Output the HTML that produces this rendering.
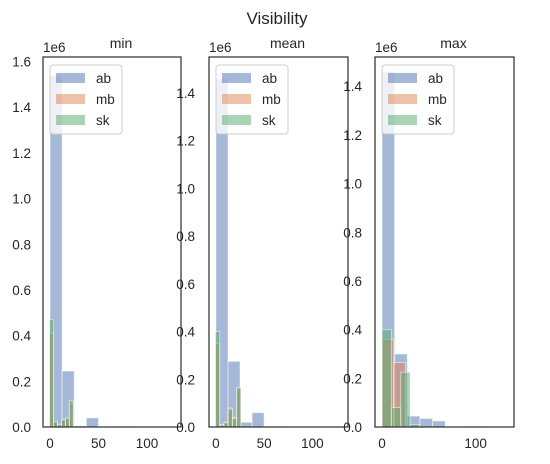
<!DOCTYPE html>
<html><head><meta charset="utf-8">
<style>
body{margin:0;background:#fff;}
svg{display:block;font-family:"Liberation Sans","DejaVu Sans",sans-serif;}
</style></head>
<body>
<svg id="chart" width="550" height="464" viewBox="0 0 550 464">
<text x="277" y="24" font-size="17" text-anchor="middle" fill="#262626">Visibility</text>
</svg>
<script>
const panelNames = ["min","mean","max"];
const seriesNames = ["ab","mb","sk"];
const seriesColors = ["#4C72B0","#DD8452","#55A868"];
// bin starts / widths (x units) and heights (1e6) for each panel
const minAbStart = 0, minAbWidth = 12.5;
const minAb = [1.54,0.245,0.005,0.04,0,0.003,0.003,0,0,0.002];
const minMbStart = -0.5, minMbWidth = 4.1;
const minMb = [0.41,0.02,0.01,0.03,0.035,0.105];
const minSkStart = -0.5, minSkWidth = 4.1;
const minSk = [0.47,0.025,0.012,0.032,0.04,0.115];
const meanAbStart = 0, meanAbWidth = 12.5;
const meanAb = [1.46,0.275,0.02,0.06,0.003,0.003,0,0,0,0];
const meanMbStart = -0.5, meanMbWidth = 4.4;
const meanMb = [0.35,0.01,0.02,0.08,0.04,0.16];
const meanSkStart = -0.5, meanSkWidth = 4.4;
const meanSk = [0.40,0.008,0.018,0.075,0.035,0.165];
const maxAbStart = 0, maxAbWidth = 13.5;
const maxAb = [1.46,0.30,0.045,0.035,0.025,0,0,0.003,0,0];
const maxMbStart = 0, maxMbWidth = 12.5;
const maxMb = [0.36,0.265];
const maxSkStart = 0, maxSkWidth = 10;
const maxSk = [0.40,0.08,0.225,0.01];
const yTicks = [[0,0.2,0.4,0.6,0.8,1.0,1.2,1.4,1.6],[0,0.2,0.4,0.6,0.8,1.0,1.2,1.4],[0,0.2,0.4,0.6,0.8,1.0,1.2,1.4]];
const xTicks = [[0,50,100],[0,50,100],[0,100]];

const NS="http://www.w3.org/2000/svg";
const svg=document.getElementById('chart');
function mk(tag,attrs,parent){const e=document.createElementNS(NS,tag);for(const k in attrs)e.setAttribute(k,attrs[k]);(parent||svg).appendChild(e);return e;}

const layout=[
 {x0:43,x1:181,top:57,bottom:427,xmin:-7.2,xmax:135,ymax:1.62,labelRight:31},
 {x0:209,x1:348,top:57,bottom:427,xmin:-7.2,xmax:137,ymax:1.55,labelRight:195},
 {x0:375,x1:514,top:57,bottom:427,xmin:-7.5,xmax:141,ymax:1.52,labelRight:362}
];
const data=[
 [[minAbStart,minAbWidth,minAb],[minMbStart,minMbWidth,minMb],[minSkStart,minSkWidth,minSk]],
 [[meanAbStart,meanAbWidth,meanAb],[meanMbStart,meanMbWidth,meanMb],[meanSkStart,meanSkWidth,meanSk]],
 [[maxAbStart,maxAbWidth,maxAb],[maxMbStart,maxMbWidth,maxMb],[maxSkStart,maxSkWidth,maxSk]]
];

layout.forEach((L,p)=>{
  const g=mk('g',{});
  
  
  const xs=v=>L.x0+(v-L.xmin)/(L.xmax-L.xmin)*(L.x1-L.x0);
  const ys=v=>L.bottom-v/L.ymax*(L.bottom-L.top);
  data[p].forEach((s,si)=>{
    const [start,w,vals]=s;
    vals.forEach((v,i)=>{
      if(v<=0)return;
      const xa=xs(start+i*w), xb=xs(start+(i+1)*w);
      const r=mk('rect',{x:xa,y:ys(v),width:xb-xa,height:L.bottom-ys(v),fill:seriesColors[si],'fill-opacity':0.5,stroke:'#fff','stroke-opacity':0.5,'stroke-width':1},g);
      
      
    });
  });
  const frame=mk('rect',{x:L.x0,y:L.top,width:L.x1-L.x0,height:L.bottom-L.top,fill:'none',stroke:'#333','stroke-width':1.25},g);
  
  
  yTicks[p].forEach(t=>{
    const tx=mk('text',{x:L.labelRight,y:ys(t)+5,'font-size':13.5,'text-anchor':'end',fill:'#262626'},g);
    tx.textContent=t.toFixed(1);
    
    
  });
  xTicks[p].forEach(t=>{
    const tx=mk('text',{x:xs(t),y:448,'font-size':13.5,'text-anchor':'middle',fill:'#262626'},g);
    tx.textContent=t;
    
    
  });
  const off=mk('text',{x:L.x0,y:52,'font-size':13.5,fill:'#262626'},g);
  off.textContent='1e6';
  
  
  const ti=mk('text',{x:(L.x0+L.x1)/2+9,y:48,'font-size':14,'text-anchor':'middle',fill:'#262626'},g);
  ti.textContent=panelNames[p];
  
  
  const lg=mk('g',{},g);
  
  
  mk('rect',{x:L.x0+7,y:65,width:72,height:69,rx:3,fill:'#fff','fill-opacity':0.8,stroke:'#ccc','stroke-width':1},lg);
  seriesNames.forEach((n,si)=>{
    const ey=73+si*21;
    const pr=mk('rect',{x:L.x0+13,y:ey,width:29,height:10,fill:seriesColors[si],'fill-opacity':0.5},lg);
    
    
    const lt=mk('text',{x:L.x0+53,y:ey+10,'font-size':13.5,fill:'#262626'},lg);
    lt.textContent=n;
    
    
  });
});
</script>
</body></html>
